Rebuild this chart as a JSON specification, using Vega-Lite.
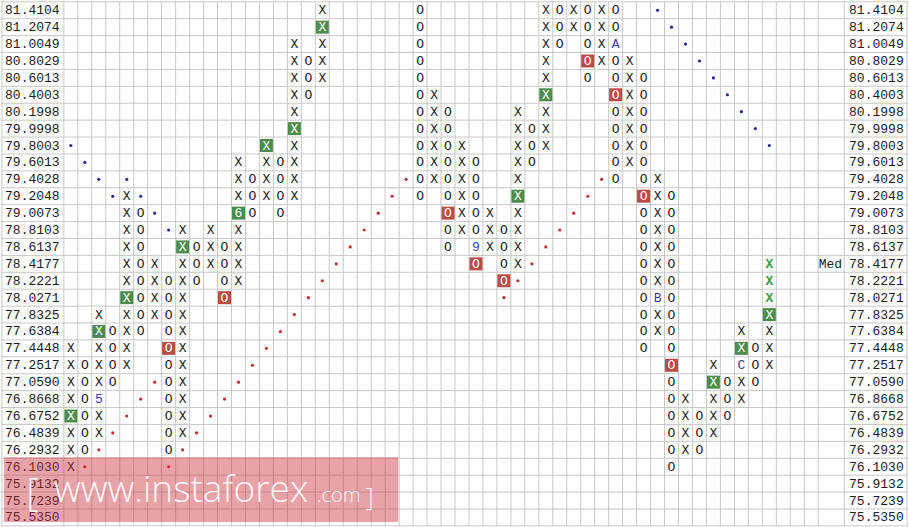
{
  "$schema": "https://vega.github.io/schema/vega-lite/v6.json",
  "width": 909,
  "height": 527,
  "autosize": {"type": "fit", "contains": "padding"},
  "padding": 0,
  "background": "#ffffff",
  "config": {
    "view": {"stroke": null},
    "axis": {"labels": false, "ticks": false, "domain": false, "grid": false}
  },
  "datasets": {
    "vgrid": [
      {"v":-4.93},{"v":-0.5},{"v":0.5},{"v":1.5},{"v":2.5},{"v":3.5},{"v":4.5},{"v":5.5},{"v":6.5},{"v":7.5},{"v":8.5},{"v":9.5},{"v":10.5},{"v":11.5},{"v":12.5},{"v":13.5},{"v":14.5},{"v":15.5},{"v":16.5},{"v":17.5},{"v":18.5},{"v":19.5},{"v":20.5},{"v":21.5},{"v":22.5},{"v":23.5},{"v":24.5},{"v":25.5},{"v":26.5},{"v":27.5},{"v":28.5},{"v":29.5},{"v":30.5},{"v":31.5},{"v":32.5},{"v":33.5},{"v":34.5},{"v":35.5},{"v":36.5},{"v":37.5},{"v":38.5},{"v":39.5},{"v":40.5},{"v":41.5},{"v":42.5},{"v":43.5},{"v":44.5},{"v":45.5},{"v":46.5},{"v":47.5},{"v":48.5},{"v":49.5},{"v":50.5},{"v":51.5},{"v":52.5},{"v":53.5},{"v":55.36},{"v":59.86}
    ],
    "hgrid": [
      {"h":-0.5},{"h":0.5},{"h":1.5},{"h":2.5},{"h":3.5},{"h":4.5},{"h":5.5},{"h":6.5},{"h":7.5},{"h":8.5},{"h":9.5},{"h":10.5},{"h":11.5},{"h":12.5},{"h":13.5},{"h":14.5},{"h":15.5},{"h":16.5},{"h":17.5},{"h":18.5},{"h":19.5},{"h":20.5},{"h":21.5},{"h":22.5},{"h":23.5},{"h":24.5},{"h":25.5},{"h":26.5},{"h":27.5},{"h":28.5},{"h":29.5},{"h":30.5}
    ],
    "cells": [
      {"c":0,"r":20,"t":"X","k":"n"},{"c":0,"r":21,"t":"X","k":"n"},{"c":0,"r":22,"t":"X","k":"n"},{"c":0,"r":23,"t":"X","k":"n"},{"c":0,"r":24,"t":"X","k":"g"},{"c":0,"r":25,"t":"X","k":"n"},{"c":0,"r":26,"t":"X","k":"n"},{"c":0,"r":27,"t":"X","k":"n"},
      {"c":1,"r":21,"t":"O","k":"n"},{"c":1,"r":22,"t":"O","k":"n"},{"c":1,"r":23,"t":"O","k":"n"},{"c":1,"r":24,"t":"O","k":"n"},{"c":1,"r":25,"t":"O","k":"n"},{"c":1,"r":26,"t":"O","k":"n"},
      {"c":2,"r":18,"t":"X","k":"n"},{"c":2,"r":19,"t":"X","k":"g"},{"c":2,"r":20,"t":"X","k":"n"},{"c":2,"r":21,"t":"X","k":"n"},{"c":2,"r":22,"t":"X","k":"n"},{"c":2,"r":23,"t":"5","k":"b"},{"c":2,"r":24,"t":"X","k":"n"},{"c":2,"r":25,"t":"X","k":"n"},
      {"c":3,"r":19,"t":"O","k":"n"},{"c":3,"r":20,"t":"O","k":"n"},{"c":3,"r":21,"t":"O","k":"n"},{"c":3,"r":22,"t":"O","k":"n"},
      {"c":4,"r":11,"t":"X","k":"n"},{"c":4,"r":12,"t":"X","k":"n"},{"c":4,"r":13,"t":"X","k":"n"},{"c":4,"r":14,"t":"X","k":"n"},{"c":4,"r":15,"t":"X","k":"n"},{"c":4,"r":16,"t":"X","k":"n"},{"c":4,"r":17,"t":"X","k":"g"},{"c":4,"r":18,"t":"X","k":"n"},{"c":4,"r":19,"t":"X","k":"n"},{"c":4,"r":20,"t":"X","k":"n"},{"c":4,"r":21,"t":"X","k":"n"},
      {"c":5,"r":12,"t":"O","k":"n"},{"c":5,"r":13,"t":"O","k":"n"},{"c":5,"r":14,"t":"O","k":"n"},{"c":5,"r":15,"t":"O","k":"n"},{"c":5,"r":16,"t":"O","k":"n"},{"c":5,"r":17,"t":"O","k":"n"},{"c":5,"r":18,"t":"O","k":"n"},{"c":5,"r":19,"t":"O","k":"n"},
      {"c":6,"r":15,"t":"X","k":"n"},{"c":6,"r":16,"t":"X","k":"n"},{"c":6,"r":17,"t":"X","k":"n"},{"c":6,"r":18,"t":"X","k":"n"},
      {"c":7,"r":16,"t":"O","k":"n"},{"c":7,"r":17,"t":"O","k":"n"},{"c":7,"r":18,"t":"O","k":"n"},{"c":7,"r":19,"t":"O","k":"n"},{"c":7,"r":20,"t":"O","k":"r"},{"c":7,"r":21,"t":"O","k":"n"},{"c":7,"r":22,"t":"O","k":"n"},{"c":7,"r":23,"t":"O","k":"n"},{"c":7,"r":24,"t":"O","k":"n"},{"c":7,"r":25,"t":"O","k":"n"},{"c":7,"r":26,"t":"O","k":"n"},
      {"c":8,"r":13,"t":"X","k":"n"},{"c":8,"r":14,"t":"X","k":"g"},{"c":8,"r":15,"t":"X","k":"n"},{"c":8,"r":16,"t":"X","k":"n"},{"c":8,"r":17,"t":"X","k":"n"},{"c":8,"r":18,"t":"X","k":"n"},{"c":8,"r":19,"t":"X","k":"n"},{"c":8,"r":20,"t":"X","k":"n"},{"c":8,"r":21,"t":"X","k":"n"},{"c":8,"r":22,"t":"X","k":"n"},{"c":8,"r":23,"t":"X","k":"n"},{"c":8,"r":24,"t":"X","k":"n"},{"c":8,"r":25,"t":"X","k":"n"},
      {"c":9,"r":14,"t":"O","k":"n"},{"c":9,"r":15,"t":"O","k":"n"},{"c":9,"r":16,"t":"O","k":"n"},
      {"c":10,"r":13,"t":"X","k":"n"},{"c":10,"r":14,"t":"X","k":"n"},{"c":10,"r":15,"t":"X","k":"n"},
      {"c":11,"r":14,"t":"O","k":"n"},{"c":11,"r":15,"t":"O","k":"n"},{"c":11,"r":16,"t":"O","k":"n"},{"c":11,"r":17,"t":"O","k":"r"},
      {"c":12,"r":9,"t":"X","k":"n"},{"c":12,"r":10,"t":"X","k":"n"},{"c":12,"r":11,"t":"X","k":"n"},{"c":12,"r":12,"t":"6","k":"g"},{"c":12,"r":13,"t":"X","k":"n"},{"c":12,"r":14,"t":"X","k":"n"},{"c":12,"r":15,"t":"X","k":"n"},{"c":12,"r":16,"t":"X","k":"n"},
      {"c":13,"r":10,"t":"O","k":"n"},{"c":13,"r":11,"t":"O","k":"n"},{"c":13,"r":12,"t":"O","k":"n"},
      {"c":14,"r":8,"t":"X","k":"g"},{"c":14,"r":9,"t":"X","k":"n"},{"c":14,"r":10,"t":"X","k":"n"},{"c":14,"r":11,"t":"X","k":"n"},
      {"c":15,"r":9,"t":"O","k":"n"},{"c":15,"r":10,"t":"O","k":"n"},{"c":15,"r":11,"t":"O","k":"n"},{"c":15,"r":12,"t":"O","k":"n"},
      {"c":16,"r":2,"t":"X","k":"n"},{"c":16,"r":3,"t":"X","k":"n"},{"c":16,"r":4,"t":"X","k":"n"},{"c":16,"r":5,"t":"X","k":"n"},{"c":16,"r":6,"t":"X","k":"n"},{"c":16,"r":7,"t":"X","k":"g"},{"c":16,"r":8,"t":"X","k":"n"},{"c":16,"r":9,"t":"X","k":"n"},{"c":16,"r":10,"t":"X","k":"n"},{"c":16,"r":11,"t":"X","k":"n"},
      {"c":17,"r":3,"t":"O","k":"n"},{"c":17,"r":4,"t":"O","k":"n"},{"c":17,"r":5,"t":"O","k":"n"},
      {"c":18,"r":0,"t":"X","k":"n"},{"c":18,"r":1,"t":"X","k":"g"},{"c":18,"r":2,"t":"X","k":"n"},{"c":18,"r":3,"t":"X","k":"n"},{"c":18,"r":4,"t":"X","k":"n"},
      {"c":25,"r":0,"t":"O","k":"n"},{"c":25,"r":1,"t":"O","k":"n"},{"c":25,"r":2,"t":"O","k":"n"},{"c":25,"r":3,"t":"O","k":"n"},{"c":25,"r":4,"t":"O","k":"n"},{"c":25,"r":5,"t":"O","k":"n"},{"c":25,"r":6,"t":"O","k":"n"},{"c":25,"r":7,"t":"O","k":"n"},{"c":25,"r":8,"t":"O","k":"n"},{"c":25,"r":9,"t":"O","k":"n"},{"c":25,"r":10,"t":"O","k":"n"},{"c":25,"r":11,"t":"O","k":"n"},
      {"c":26,"r":5,"t":"X","k":"n"},{"c":26,"r":6,"t":"X","k":"n"},{"c":26,"r":7,"t":"X","k":"n"},{"c":26,"r":8,"t":"X","k":"n"},{"c":26,"r":9,"t":"X","k":"n"},{"c":26,"r":10,"t":"X","k":"n"},
      {"c":27,"r":6,"t":"O","k":"n"},{"c":27,"r":7,"t":"O","k":"n"},{"c":27,"r":8,"t":"O","k":"n"},{"c":27,"r":9,"t":"O","k":"n"},{"c":27,"r":10,"t":"O","k":"n"},{"c":27,"r":11,"t":"O","k":"n"},{"c":27,"r":12,"t":"O","k":"r"},{"c":27,"r":13,"t":"O","k":"n"},{"c":27,"r":14,"t":"O","k":"n"},
      {"c":28,"r":8,"t":"X","k":"n"},{"c":28,"r":9,"t":"X","k":"n"},{"c":28,"r":10,"t":"X","k":"n"},{"c":28,"r":11,"t":"X","k":"n"},{"c":28,"r":12,"t":"X","k":"n"},{"c":28,"r":13,"t":"X","k":"n"},
      {"c":29,"r":9,"t":"O","k":"n"},{"c":29,"r":10,"t":"O","k":"n"},{"c":29,"r":11,"t":"O","k":"n"},{"c":29,"r":12,"t":"O","k":"n"},{"c":29,"r":13,"t":"O","k":"n"},{"c":29,"r":14,"t":"9","k":"b"},{"c":29,"r":15,"t":"O","k":"r"},
      {"c":30,"r":12,"t":"X","k":"n"},{"c":30,"r":13,"t":"X","k":"n"},{"c":30,"r":14,"t":"X","k":"n"},
      {"c":31,"r":13,"t":"O","k":"n"},{"c":31,"r":14,"t":"O","k":"n"},{"c":31,"r":15,"t":"O","k":"n"},{"c":31,"r":16,"t":"O","k":"r"},
      {"c":32,"r":6,"t":"X","k":"n"},{"c":32,"r":7,"t":"X","k":"n"},{"c":32,"r":8,"t":"X","k":"n"},{"c":32,"r":9,"t":"X","k":"n"},{"c":32,"r":10,"t":"X","k":"n"},{"c":32,"r":11,"t":"X","k":"g"},{"c":32,"r":12,"t":"X","k":"n"},{"c":32,"r":13,"t":"X","k":"n"},{"c":32,"r":14,"t":"X","k":"n"},{"c":32,"r":15,"t":"X","k":"n"},
      {"c":33,"r":7,"t":"O","k":"n"},{"c":33,"r":8,"t":"O","k":"n"},{"c":33,"r":9,"t":"O","k":"n"},
      {"c":34,"r":0,"t":"X","k":"n"},{"c":34,"r":1,"t":"X","k":"n"},{"c":34,"r":2,"t":"X","k":"n"},{"c":34,"r":3,"t":"X","k":"n"},{"c":34,"r":4,"t":"X","k":"n"},{"c":34,"r":5,"t":"X","k":"g"},{"c":34,"r":6,"t":"X","k":"n"},{"c":34,"r":7,"t":"X","k":"n"},{"c":34,"r":8,"t":"X","k":"n"},
      {"c":35,"r":0,"t":"O","k":"n"},{"c":35,"r":1,"t":"O","k":"n"},{"c":35,"r":2,"t":"O","k":"n"},
      {"c":36,"r":0,"t":"X","k":"n"},{"c":36,"r":1,"t":"X","k":"n"},
      {"c":37,"r":0,"t":"O","k":"n"},{"c":37,"r":1,"t":"O","k":"n"},{"c":37,"r":2,"t":"O","k":"n"},{"c":37,"r":3,"t":"O","k":"r"},{"c":37,"r":4,"t":"O","k":"n"},
      {"c":38,"r":0,"t":"X","k":"n"},{"c":38,"r":1,"t":"X","k":"n"},{"c":38,"r":2,"t":"X","k":"n"},{"c":38,"r":3,"t":"X","k":"n"},
      {"c":39,"r":0,"t":"O","k":"n"},{"c":39,"r":1,"t":"O","k":"n"},{"c":39,"r":2,"t":"A","k":"b"},{"c":39,"r":3,"t":"O","k":"n"},{"c":39,"r":4,"t":"O","k":"n"},{"c":39,"r":5,"t":"O","k":"r"},{"c":39,"r":6,"t":"O","k":"n"},{"c":39,"r":7,"t":"O","k":"n"},{"c":39,"r":8,"t":"O","k":"n"},{"c":39,"r":9,"t":"O","k":"n"},{"c":39,"r":10,"t":"O","k":"n"},
      {"c":40,"r":3,"t":"X","k":"n"},{"c":40,"r":4,"t":"X","k":"n"},{"c":40,"r":5,"t":"X","k":"n"},{"c":40,"r":6,"t":"X","k":"n"},{"c":40,"r":7,"t":"X","k":"n"},{"c":40,"r":8,"t":"X","k":"n"},{"c":40,"r":9,"t":"X","k":"n"},
      {"c":41,"r":4,"t":"O","k":"n"},{"c":41,"r":5,"t":"O","k":"n"},{"c":41,"r":6,"t":"O","k":"n"},{"c":41,"r":7,"t":"O","k":"n"},{"c":41,"r":8,"t":"O","k":"n"},{"c":41,"r":9,"t":"O","k":"n"},{"c":41,"r":10,"t":"O","k":"n"},{"c":41,"r":11,"t":"O","k":"r"},{"c":41,"r":12,"t":"O","k":"n"},{"c":41,"r":13,"t":"O","k":"n"},{"c":41,"r":14,"t":"O","k":"n"},{"c":41,"r":15,"t":"O","k":"n"},{"c":41,"r":16,"t":"O","k":"n"},{"c":41,"r":17,"t":"O","k":"n"},{"c":41,"r":18,"t":"O","k":"n"},{"c":41,"r":19,"t":"O","k":"n"},{"c":41,"r":20,"t":"O","k":"n"},
      {"c":42,"r":10,"t":"X","k":"n"},{"c":42,"r":11,"t":"X","k":"n"},{"c":42,"r":12,"t":"X","k":"n"},{"c":42,"r":13,"t":"X","k":"n"},{"c":42,"r":14,"t":"X","k":"n"},{"c":42,"r":15,"t":"X","k":"n"},{"c":42,"r":16,"t":"X","k":"n"},{"c":42,"r":17,"t":"B","k":"b"},{"c":42,"r":18,"t":"X","k":"n"},{"c":42,"r":19,"t":"X","k":"n"},
      {"c":43,"r":11,"t":"O","k":"n"},{"c":43,"r":12,"t":"O","k":"n"},{"c":43,"r":13,"t":"O","k":"n"},{"c":43,"r":14,"t":"O","k":"n"},{"c":43,"r":15,"t":"O","k":"n"},{"c":43,"r":16,"t":"O","k":"n"},{"c":43,"r":17,"t":"O","k":"n"},{"c":43,"r":18,"t":"O","k":"n"},{"c":43,"r":19,"t":"O","k":"n"},{"c":43,"r":20,"t":"O","k":"n"},{"c":43,"r":21,"t":"O","k":"r"},{"c":43,"r":22,"t":"O","k":"n"},{"c":43,"r":23,"t":"O","k":"n"},{"c":43,"r":24,"t":"O","k":"n"},{"c":43,"r":25,"t":"O","k":"n"},{"c":43,"r":26,"t":"O","k":"n"},{"c":43,"r":27,"t":"O","k":"n"},
      {"c":44,"r":23,"t":"X","k":"n"},{"c":44,"r":24,"t":"X","k":"n"},{"c":44,"r":25,"t":"X","k":"n"},{"c":44,"r":26,"t":"X","k":"n"},
      {"c":45,"r":24,"t":"O","k":"n"},{"c":45,"r":25,"t":"O","k":"n"},{"c":45,"r":26,"t":"O","k":"n"},
      {"c":46,"r":21,"t":"X","k":"n"},{"c":46,"r":22,"t":"X","k":"g"},{"c":46,"r":23,"t":"X","k":"n"},{"c":46,"r":24,"t":"X","k":"n"},{"c":46,"r":25,"t":"X","k":"n"},
      {"c":47,"r":22,"t":"O","k":"n"},{"c":47,"r":23,"t":"O","k":"n"},{"c":47,"r":24,"t":"O","k":"n"},
      {"c":48,"r":19,"t":"X","k":"n"},{"c":48,"r":20,"t":"X","k":"g"},{"c":48,"r":21,"t":"C","k":"b"},{"c":48,"r":22,"t":"X","k":"n"},{"c":48,"r":23,"t":"X","k":"n"},
      {"c":49,"r":20,"t":"O","k":"n"},{"c":49,"r":21,"t":"O","k":"n"},{"c":49,"r":22,"t":"O","k":"n"},
      {"c":50,"r":15,"t":"X","k":"t"},{"c":50,"r":16,"t":"X","k":"t"},{"c":50,"r":17,"t":"X","k":"t"},{"c":50,"r":18,"t":"X","k":"g"},{"c":50,"r":19,"t":"X","k":"n"},{"c":50,"r":20,"t":"X","k":"n"},{"c":50,"r":21,"t":"X","k":"n"}
    ],
    "dots": [
      {"c":0,"r":8,"k":"b"},{"c":1,"r":9,"k":"b"},{"c":2,"r":10,"k":"b"},{"c":3,"r":11,"k":"b"},
      {"c":4,"r":10,"k":"b"},{"c":5,"r":11,"k":"b"},{"c":6,"r":12,"k":"b"},{"c":7,"r":13,"k":"b"},
      {"c":42,"r":0,"k":"b"},{"c":43,"r":1,"k":"b"},{"c":44,"r":2,"k":"b"},{"c":45,"r":3,"k":"b"},{"c":46,"r":4,"k":"b"},{"c":47,"r":5,"k":"b"},{"c":48,"r":6,"k":"b"},{"c":49,"r":7,"k":"b"},{"c":50,"r":8,"k":"b"},
      {"c":1,"r":27,"k":"r"},{"c":2,"r":26,"k":"r"},{"c":3,"r":25,"k":"r"},{"c":4,"r":24,"k":"r"},{"c":5,"r":23,"k":"r"},{"c":6,"r":22,"k":"r"},
      {"c":7,"r":27,"k":"r"},{"c":8,"r":26,"k":"r"},{"c":9,"r":25,"k":"r"},{"c":10,"r":24,"k":"r"},{"c":11,"r":23,"k":"r"},{"c":12,"r":22,"k":"r"},{"c":13,"r":21,"k":"r"},{"c":14,"r":20,"k":"r"},{"c":15,"r":19,"k":"r"},{"c":16,"r":18,"k":"r"},{"c":17,"r":17,"k":"r"},{"c":18,"r":16,"k":"r"},{"c":19,"r":15,"k":"r"},{"c":20,"r":14,"k":"r"},{"c":21,"r":13,"k":"r"},{"c":22,"r":12,"k":"r"},{"c":23,"r":11,"k":"r"},{"c":24,"r":10,"k":"r"},
      {"c":31,"r":17,"k":"r"},{"c":32,"r":16,"k":"r"},{"c":33,"r":15,"k":"r"},{"c":34,"r":14,"k":"r"},{"c":35,"r":13,"k":"r"},{"c":36,"r":12,"k":"r"},{"c":37,"r":11,"k":"r"},{"c":38,"r":10,"k":"r"}
    ],
    "levels": [
      {"r":0,"p":"81.4104"},{"r":1,"p":"81.2074"},{"r":2,"p":"81.0049"},{"r":3,"p":"80.8029"},{"r":4,"p":"80.6013"},{"r":5,"p":"80.4003"},{"r":6,"p":"80.1998"},{"r":7,"p":"79.9998"},{"r":8,"p":"79.8003"},{"r":9,"p":"79.6013"},{"r":10,"p":"79.4028"},{"r":11,"p":"79.2048"},{"r":12,"p":"79.0073"},{"r":13,"p":"78.8103"},{"r":14,"p":"78.6137"},{"r":15,"p":"78.4177"},{"r":16,"p":"78.2221"},{"r":17,"p":"78.0271"},{"r":18,"p":"77.8325"},{"r":19,"p":"77.6384"},{"r":20,"p":"77.4448"},{"r":21,"p":"77.2517"},{"r":22,"p":"77.0590"},{"r":23,"p":"76.8668"},{"r":24,"p":"76.6752"},{"r":25,"p":"76.4839"},{"r":26,"p":"76.2932"},{"r":27,"p":"76.1030"},{"r":28,"p":"75.9132"},{"r":29,"p":"75.7239"},{"r":30,"p":"75.5350"}
    ]
  },
  "layer": [
    {
      "data": {"name": "vgrid"},
      "mark": {"type": "rule", "color": "#c8c8c8", "strokeWidth": 1},
      "encoding": {
        "x": {"field": "v", "type": "quantitative", "title": null, "scale": {"domain": [-5, 59.9286], "nice": false, "zero": false}}
      }
    },
    {
      "data": {"name": "hgrid"},
      "mark": {"type": "rule", "color": "#c8c8c8", "strokeWidth": 1},
      "encoding": {
        "y": {"field": "h", "type": "quantitative", "title": null, "scale": {"domain": [-0.548, 30.507], "reverse": true, "nice": false, "zero": false}}
      }
    },
    {
      "data": {"name": "cells"},
      "transform": [{"filter": "datum.k == 'g'"}],
      "mark": {"type": "point", "shape": "square", "filled": true, "size": 169, "color": "#4d8c4f", "opacity": 1},
      "encoding": {
        "x": {"field": "c", "type": "quantitative", "title": null, "scale": {"domain": [-5, 59.9286], "nice": false, "zero": false}},
        "y": {"field": "r", "type": "quantitative", "title": null, "scale": {"domain": [-0.548, 30.507], "reverse": true, "nice": false, "zero": false}}
      }
    },
    {
      "data": {"name": "cells"},
      "transform": [{"filter": "datum.k == 'r'"}],
      "mark": {"type": "point", "shape": "square", "filled": true, "size": 169, "color": "#b84d48", "opacity": 1},
      "encoding": {
        "x": {"field": "c", "type": "quantitative", "title": null, "scale": {"domain": [-5, 59.9286], "nice": false, "zero": false}},
        "y": {"field": "r", "type": "quantitative", "title": null, "scale": {"domain": [-0.548, 30.507], "reverse": true, "nice": false, "zero": false}}
      }
    },
    {
      "data": {"name": "cells"},
      "transform": [{"filter": "datum.k == 'n'"}],
      "mark": {"type": "text", "font": "Liberation Mono", "fontSize": 13, "baseline": "middle", "color": "#1a1a1a"},
      "encoding": {
        "x": {"field": "c", "type": "quantitative", "title": null, "scale": {"domain": [-5, 59.9286], "nice": false, "zero": false}},
        "y": {"field": "r", "type": "quantitative", "title": null, "scale": {"domain": [-0.548, 30.507], "reverse": true, "nice": false, "zero": false}},
        "text": {"field": "t"}
      }
    },
    {
      "data": {"name": "cells"},
      "transform": [{"filter": "datum.k == 'g' || datum.k == 'r'"}],
      "mark": {"type": "text", "font": "Liberation Mono", "fontSize": 13, "baseline": "middle", "color": "#ffffff"},
      "encoding": {
        "x": {"field": "c", "type": "quantitative", "title": null, "scale": {"domain": [-5, 59.9286], "nice": false, "zero": false}},
        "y": {"field": "r", "type": "quantitative", "title": null, "scale": {"domain": [-0.548, 30.507], "reverse": true, "nice": false, "zero": false}},
        "text": {"field": "t"}
      }
    },
    {
      "data": {"name": "cells"},
      "transform": [{"filter": "datum.k == 'b'"}],
      "mark": {"type": "text", "font": "Liberation Mono", "fontSize": 13, "baseline": "middle", "color": "#3838b0"},
      "encoding": {
        "x": {"field": "c", "type": "quantitative", "title": null, "scale": {"domain": [-5, 59.9286], "nice": false, "zero": false}},
        "y": {"field": "r", "type": "quantitative", "title": null, "scale": {"domain": [-0.548, 30.507], "reverse": true, "nice": false, "zero": false}},
        "text": {"field": "t"}
      }
    },
    {
      "data": {"name": "cells"},
      "transform": [{"filter": "datum.k == 't'"}],
      "mark": {"type": "text", "font": "Liberation Mono", "fontSize": 13, "fontWeight": "bold", "baseline": "middle", "color": "#3c9a3c"},
      "encoding": {
        "x": {"field": "c", "type": "quantitative", "title": null, "scale": {"domain": [-5, 59.9286], "nice": false, "zero": false}},
        "y": {"field": "r", "type": "quantitative", "title": null, "scale": {"domain": [-0.548, 30.507], "reverse": true, "nice": false, "zero": false}},
        "text": {"field": "t"}
      }
    },
    {
      "data": {"name": "dots"},
      "transform": [{"filter": "datum.k == 'b'"}],
      "mark": {"type": "circle", "size": 10, "color": "#1c2a96", "opacity": 1},
      "encoding": {
        "x": {"field": "c", "type": "quantitative", "title": null, "scale": {"domain": [-5, 59.9286], "nice": false, "zero": false}},
        "y": {"field": "r", "type": "quantitative", "title": null, "scale": {"domain": [-0.548, 30.507], "reverse": true, "nice": false, "zero": false}}
      }
    },
    {
      "data": {"name": "dots"},
      "transform": [{"filter": "datum.k == 'r'"}],
      "mark": {"type": "circle", "size": 10, "color": "#c42828", "opacity": 1},
      "encoding": {
        "x": {"field": "c", "type": "quantitative", "title": null, "scale": {"domain": [-5, 59.9286], "nice": false, "zero": false}},
        "y": {"field": "r", "type": "quantitative", "title": null, "scale": {"domain": [-0.548, 30.507], "reverse": true, "nice": false, "zero": false}}
      }
    },
    {
      "data": {"name": "levels"},
      "mark": {"type": "text", "font": "Liberation Mono", "fontSize": 13, "align": "left", "baseline": "middle", "color": "#1a1a1a"},
      "encoding": {
        "x": {"datum": -4.71, "type": "quantitative", "title": null, "scale": {"domain": [-5, 59.9286], "nice": false, "zero": false}},
        "y": {"field": "r", "type": "quantitative", "title": null, "scale": {"domain": [-0.548, 30.507], "reverse": true, "nice": false, "zero": false}},
        "text": {"field": "p"}
      }
    },
    {
      "data": {"name": "levels"},
      "mark": {"type": "text", "font": "Liberation Mono", "fontSize": 13, "align": "left", "baseline": "middle", "color": "#1a1a1a"},
      "encoding": {
        "x": {"datum": 55.71, "type": "quantitative", "title": null, "scale": {"domain": [-5, 59.9286], "nice": false, "zero": false}},
        "y": {"field": "r", "type": "quantitative", "title": null, "scale": {"domain": [-0.548, 30.507], "reverse": true, "nice": false, "zero": false}},
        "text": {"field": "p"}
      }
    },
    {
      "data": {"values": [{"r": 15, "t": "Med"}]},
      "mark": {"type": "text", "font": "Liberation Mono", "fontSize": 13, "align": "right", "baseline": "middle", "color": "#1a1a1a"},
      "encoding": {
        "x": {"datum": 55.21, "type": "quantitative", "title": null, "scale": {"domain": [-5, 59.9286], "nice": false, "zero": false}},
        "y": {"field": "r", "type": "quantitative", "title": null, "scale": {"domain": [-0.548, 30.507], "reverse": true, "nice": false, "zero": false}},
        "text": {"field": "t"}
      }
    },
    {
      "data": {"values": [{"t": "watermark"}]},
      "mark": {"type": "rect", "color": "#cc3340", "opacity": 0.45},
      "encoding": {
        "x": {"datum": -4.79, "type": "quantitative", "title": null, "scale": {"domain": [-5, 59.9286], "nice": false, "zero": false}},
        "x2": {"datum": 23.43},
        "y": {"datum": 26.44, "type": "quantitative", "title": null, "scale": {"domain": [-0.548, 30.507], "reverse": true, "nice": false, "zero": false}},
        "y2": {"datum": 30.27}
      }
    },
    {
      "data": {"values": [{"t": "["}]},
      "mark": {"type": "text", "font": "Open Sans", "fontSize": 38, "fontWeight": 300, "align": "left", "baseline": "alphabetic", "color": "#ffffff", "opacity": 0.9},
      "encoding": {
        "x": {"datum": -3.2, "type": "quantitative", "title": null, "scale": {"domain": [-5, 59.9286], "nice": false, "zero": false}},
        "y": {"datum": 29.3, "type": "quantitative", "title": null, "scale": {"domain": [-0.548, 30.507], "reverse": true, "nice": false, "zero": false}},
        "text": {"field": "t"}
      }
    },
    {
      "data": {"values": [{"t": "www.instaforex"}]},
      "mark": {"type": "text", "font": "Open Sans", "fontSize": 37, "fontWeight": 300, "align": "left", "baseline": "alphabetic", "color": "#ffffff", "opacity": 0.9},
      "encoding": {
        "x": {"datum": -1.21, "type": "quantitative", "title": null, "scale": {"domain": [-5, 59.9286], "nice": false, "zero": false}},
        "y": {"datum": 29.09, "type": "quantitative", "title": null, "scale": {"domain": [-0.548, 30.507], "reverse": true, "nice": false, "zero": false}},
        "text": {"field": "t"}
      }
    },
    {
      "data": {"values": [{"t": ".com"}]},
      "mark": {"type": "text", "font": "Open Sans", "fontSize": 20, "fontWeight": 300, "align": "left", "baseline": "alphabetic", "color": "#ffffff", "opacity": 0.9},
      "encoding": {
        "x": {"datum": 17.6, "type": "quantitative", "title": null, "scale": {"domain": [-5, 59.9286], "nice": false, "zero": false}},
        "y": {"datum": 29.09, "type": "quantitative", "title": null, "scale": {"domain": [-0.548, 30.507], "reverse": true, "nice": false, "zero": false}},
        "text": {"field": "t"}
      }
    },
    {
      "data": {"values": [{"t": "]"}]},
      "mark": {"type": "text", "font": "Open Sans", "fontSize": 26, "fontWeight": 300, "align": "left", "baseline": "alphabetic", "color": "#ffffff", "opacity": 0.9},
      "encoding": {
        "x": {"datum": 21.1, "type": "quantitative", "title": null, "scale": {"domain": [-5, 59.9286], "nice": false, "zero": false}},
        "y": {"datum": 29.3, "type": "quantitative", "title": null, "scale": {"domain": [-0.548, 30.507], "reverse": true, "nice": false, "zero": false}},
        "text": {"field": "t"}
      }
    }
  ]
}
